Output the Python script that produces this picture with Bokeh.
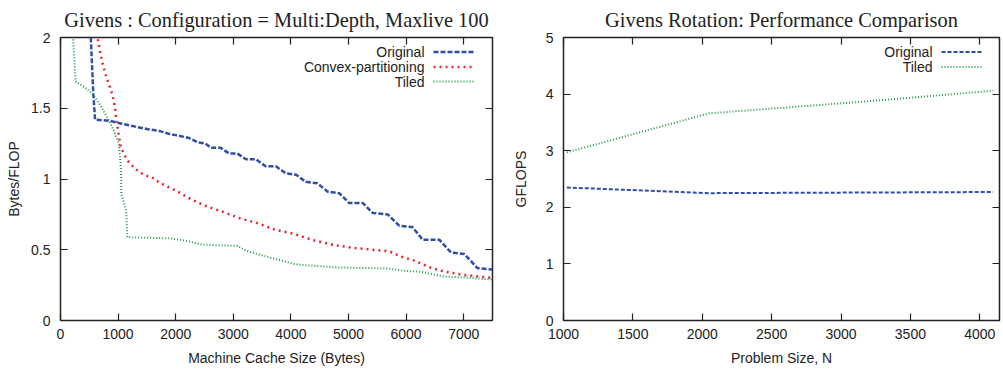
from bokeh.plotting import figure
from bokeh.models import Range1d, LinearAxis, FixedTicker, Label, Arrow
from bokeh.layouts import row
from bokeh.embed import file_html
from bokeh.resources import INLINE

# ---------------- Data: left chart (Bytes/FLOP vs cache size) ----------------
orig_x = [515, 570, 600, 870, 1070, 1300, 1540, 1710, 1880, 2000, 2230, 2380, 2520, 2610,
          2780, 2930, 3070, 3220, 3390, 3560, 3740, 3910, 4090, 4260, 4460, 4640, 4840,
          5010, 5250, 5420, 5680, 5880, 6110, 6290, 6580, 6780, 7010, 7240, 7500]
orig_y = [2.10, 1.60, 1.42, 1.41, 1.39, 1.37, 1.35, 1.34, 1.32, 1.31, 1.29, 1.26, 1.25, 1.22,
          1.22, 1.18, 1.18, 1.14, 1.14, 1.09, 1.09, 1.04, 1.03, 0.98, 0.97, 0.91, 0.90,
          0.83, 0.83, 0.76, 0.75, 0.67, 0.66, 0.57, 0.57, 0.48, 0.47, 0.37, 0.36]

conv_x = [630, 695, 736, 782, 840, 898, 945, 968, 1003, 1043, 1101, 1188, 1304, 1449, 1623,
          1710, 1884, 2028, 2289, 2550, 2811, 3129, 3390, 3738, 4056, 4375, 4760, 5099,
          5447, 5708, 5911, 6143, 6433, 6664, 6954, 7244, 7500]
conv_y = [2.03, 1.88, 1.81, 1.74, 1.67, 1.60, 1.51, 1.42, 1.33, 1.235, 1.176, 1.117, 1.07,
          1.03, 1.004, 0.976, 0.941, 0.913, 0.852, 0.805, 0.769, 0.72, 0.692, 0.64, 0.612,
          0.569, 0.532, 0.513, 0.499, 0.489, 0.452, 0.423, 0.372, 0.346, 0.325, 0.311, 0.301]

tiled_x = [212, 262, 464, 579, 695, 811, 927, 1014, 1043, 1055, 1055, 1101, 1142, 1159,
           1880, 2170, 2460, 3070, 3216, 3448, 3767, 4056, 4172, 4752, 5700, 5911, 6259,
           6433, 6664, 7000, 7500]
tiled_y = [2.05, 1.69, 1.635, 1.588, 1.518, 1.435, 1.341, 1.247, 1.106, 1.0, 0.894, 0.835,
           0.776, 0.588, 0.581, 0.565, 0.536, 0.527, 0.494, 0.466, 0.43, 0.40, 0.393,
           0.376, 0.367, 0.353, 0.344, 0.33, 0.31, 0.305, 0.29]

left_xticks = [0, 1000, 2000, 3000, 4000, 5000, 6000, 7000]
left_yticks = [0, 0.5, 1, 1.5, 2]
left_ylabels = ["0", "0.5", "1", "1.5", "2"]

# ---------------- Data: right chart (GFLOPS vs problem size) ----------------
perf_n = [1024, 2048, 3072, 4096]
perf_orig = [2.35, 2.25, 2.26, 2.27]
perf_tiled = [2.97, 3.66, 3.85, 4.06]

right_xticks = [1000, 1500, 2000, 2500, 3000, 3500, 4000]
right_yticks = [0, 1, 2, 3, 4, 5]

# ---------------- Styles ----------------
BLUE = "#2F4FA6"
RED = "#E8262D"
GREEN = "#1F9A4A"
INK = "#222222"
SANS = "Liberation Sans"
SERIF = "Liberation Serif"

FIG_H = 368
B_TOP = 37
B_BOT = 48
FRAME_H = FIG_H - B_TOP - B_BOT


def style_axis(ax, ticks, overrides=None, labels=True):
    ax.ticker = FixedTicker(ticks=ticks)
    ax.axis_line_color = None
    ax.major_tick_in = 7
    ax.major_tick_out = 0
    ax.minor_tick_in = 0
    ax.minor_tick_out = 0
    ax.major_tick_line_color = INK
    ax.major_tick_line_width = 1.2
    if labels:
        ax.major_label_text_font = SANS
        ax.major_label_text_font_size = "14px"
        ax.major_label_text_color = INK
        ax.axis_label_text_font = SANS
        ax.axis_label_text_font_size = "14px"
        ax.axis_label_text_font_style = "normal"
        ax.axis_label_text_color = INK
        if overrides:
            ax.major_label_overrides = overrides
    else:
        ax.major_label_text_font_size = "0px"
        ax.major_label_standoff = 0


def make_fig(width, xr, yr, title, mleft, mright):
    p = figure(width=width, height=FIG_H, x_range=Range1d(*xr), y_range=Range1d(*yr),
               output_backend="svg", toolbar_location=None,
               min_border_left=mleft, min_border_right=mright,
               min_border_top=B_TOP, min_border_bottom=B_BOT)
    p.grid.visible = False
    p.outline_line_color = INK
    p.outline_line_width = 1.5
    p.outline_line_alpha = 1.0
    p.background_fill_color = "white"
    p.border_fill_color = "white"
    p.title.text = title
    p.title.text_font = SERIF
    p.title.text_font_size = "20.4px"
    p.title.text_font_style = "normal"
    p.title.text_color = INK
    p.title.align = "center"
    p.title.offset = 0
    p.title.standoff = 13
    return p


def add_legend(p, entries, text_right, samp_x0, samp_x1, rows_from_top):
    for (name, color, width, dash), yt in zip(entries, rows_from_top):
        y = FRAME_H - yt
        p.add_layout(Label(x=text_right, y=y, x_units="screen", y_units="screen",
                           text=name, text_align="right", text_baseline="middle",
                           text_font=SANS, text_font_size="14px", text_color=INK))
        p.add_layout(Arrow(end=None, x_start=samp_x0, y_start=y, x_end=samp_x1, y_end=y,
                           start_units="screen", end_units="screen",
                           line_color=color, line_width=width, line_dash=dash))


# ---------------- Left figure ----------------
p1 = make_fig(500, (0, 7500), (0, 2), "Givens : Configuration = Multi:Depth, Maxlive 100", 60, 8)
p1.line(orig_x, orig_y, line_color=BLUE, line_width=2.5, line_dash="5 2")
p1.line(conv_x, conv_y, line_color=RED, line_width=2.5, line_dash="2 4")
p1.line(tiled_x, tiled_y, line_color=GREEN, line_width=2, line_dash="1 2")

style_axis(p1.xaxis[0], left_xticks)
p1.xaxis[0].axis_label = "Machine Cache Size (Bytes)"
p1.xaxis[0].major_label_standoff = 8
p1.xaxis[0].axis_label_standoff = 8
style_axis(p1.yaxis[0], left_yticks, dict(zip(left_yticks, left_ylabels)))
p1.yaxis[0].axis_label = "Bytes/FLOP"
p1.yaxis[0].major_label_standoff = 10
p1.yaxis[0].axis_label_standoff = 6

top1 = LinearAxis()
style_axis(top1, left_xticks, labels=False)
p1.add_layout(top1, "above")
right1 = LinearAxis()
style_axis(right1, left_yticks, labels=False)
p1.add_layout(right1, "right")

add_legend(p1, [("Original", BLUE, 2.5, "5 2"),
                ("Convex-partitioning", RED, 2.5, "2 4"),
                ("Tiled", GREEN, 2, "1 2")],
           364, 373, 413, [14.5, 29.5, 44])

# ---------------- Right figure ----------------
p2 = make_fig(503, (1000, 4142), (0, 5), "Givens Rotation: Performance Comparison", 63, 4)
p2.line(perf_n, perf_orig, line_color=BLUE, line_width=2, line_dash="4 2")
p2.line(perf_n, perf_tiled, line_color=GREEN, line_width=2, line_dash="1 2")

style_axis(p2.xaxis[0], right_xticks)
p2.xaxis[0].axis_label = "Problem Size, N"
p2.xaxis[0].major_label_standoff = 8
p2.xaxis[0].axis_label_standoff = 8
style_axis(p2.yaxis[0], right_yticks)
p2.yaxis[0].axis_label = "GFLOPS"
p2.yaxis[0].major_label_standoff = 10
p2.yaxis[0].axis_label_standoff = 14

top2 = LinearAxis()
style_axis(top2, right_xticks, labels=False)
p2.add_layout(top2, "above")
right2 = LinearAxis()
style_axis(right2, right_yticks, labels=False)
p2.add_layout(right2, "right")

add_legend(p2, [("Original", BLUE, 2, "4 2"),
                ("Tiled", GREEN, 2, "1 2")],
           369, 378, 419, [14.5, 29.5])

layout = row(p1, p2)
open("out.html", "w").write(file_html(layout, INLINE))
